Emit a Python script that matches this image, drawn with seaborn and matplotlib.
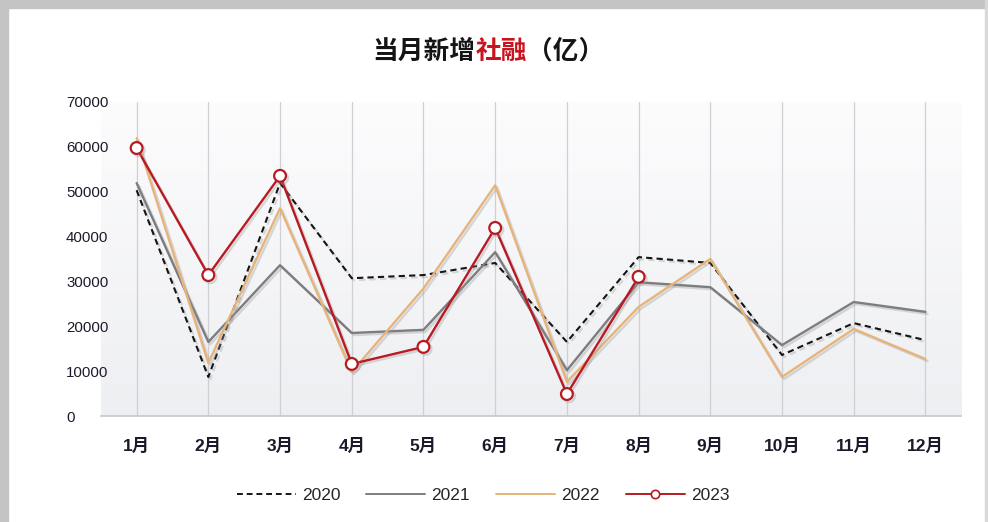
import numpy as np
import pandas as pd
import seaborn as sns
import matplotlib.pyplot as plt
from matplotlib.patches import Rectangle
from matplotlib.lines import Line2D
from matplotlib.colors import LinearSegmentedColormap
import matplotlib.patheffects as pe

months = ['1月', '2月', '3月', '4月', '5月', '6月', '7月', '8月', '9月', '10月', '11月', '12月']
v2020 = [50300, 8700, 51900, 30700, 31400, 34100, 16500, 35400, 34100, 13600, 20700, 16900]
v2021 = [51900, 16500, 33600, 18500, 19200, 36500, 10200, 29800, 28700, 15800, 25400, 23200]
v2022 = [61900, 11800, 46300, 9800, 28400, 51400, 7600, 24300, 35000, 8700, 19400, 12700]
v2023 = [59700, 31400, 53500, 11600, 15400, 41900, 4900, 31000]
years = ['2020', '2021', '2022', '2023']
yticks = [0, 10000, 20000, 30000, 40000, 50000, 60000, 70000]

sns.set_theme(style='white')
plt.rcParams['font.family'] = ['Liberation Sans', 'Noto Sans CJK SC', 'DejaVu Sans']
plt.rcParams['axes.unicode_minus'] = False

rows = []
for yr, vals in zip(years, [v2020, v2021, v2022, v2023]):
    for m, v in zip(months, vals):
        rows.append({'month': m, 'year': yr, 'value': v})
df = pd.DataFrame(rows)
df['x'] = df['month'].map({m: i for i, m in enumerate(months)})

colors = {'2020': '#151515', '2021': '#7d7d80', '2022': '#e6b47a', '2023': '#b81a22'}

fig = plt.figure(figsize=(9.88, 5.22), dpi=100)
fig.patch.set_facecolor('white')
ax = fig.add_axes([0.102, 0.203, 0.871, 0.602])

# light background gradient in plot area
grad = np.linspace(0, 1, 100).reshape(-1, 1)
ax.imshow(grad, extent=[-0.5, 11.5, 0, 70000], aspect='auto', origin='lower',
          cmap=LinearSegmentedColormap.from_list('g', ['#eeeff2', '#fcfcfd']),
          zorder=0)

shadow = [pe.SimpleLineShadow(offset=(1.5, -1.5), shadow_color='#999999', alpha=0.35), pe.Normal()]

styles = {
    '2020': dict(linestyle=(0, (3, 2)), linewidth=1.5),
    '2021': dict(linestyle='-', linewidth=1.7),
    '2022': dict(linestyle='-', linewidth=1.7),
    '2023': dict(linestyle='-', linewidth=1.7, marker='o', markersize=8.5,
                 markerfacecolor='white', markeredgewidth=1.6),
}
for yr in years:
    d = df[df['year'] == yr]
    sns.lineplot(data=d, x='x', y='value', ax=ax, color=colors[yr], zorder=3,
                 markeredgecolor=colors[yr], path_effects=shadow, **styles[yr])

ax.set_xlim(-0.5, 11.5)
ax.set_ylim(0, 70000)
ax.set_xticks(range(12))
ax.set_xticklabels(months)
ax.set_yticks(yticks)
ax.set_yticklabels([str(t) for t in yticks])
ax.set_xlabel('')
ax.set_ylabel('')
for i in range(12):
    ax.axvline(i, color='#cfcfd4', linewidth=0.9, zorder=1)
for s in ['top', 'right', 'left']:
    ax.spines[s].set_visible(False)
ax.spines['bottom'].set_color('#c8c8cc')
ax.spines['bottom'].set_linewidth(1.2)
ax.tick_params(axis='x', length=0, pad=16, labelsize=12.5, labelcolor='#1c1a2a')
ax.tick_params(axis='y', length=0, pad=25, labelsize=10.8, labelcolor='#1c1a2a')
for lab in ax.get_yticklabels():
    lab.set_horizontalalignment('left')
    lab.set_fontweight('medium')
for lab in ax.get_xticklabels():
    lab.set_fontweight('bold')
    lab.set_family(['Liberation Sans', 'Noto Sans CJK SC'])

# legend
handles = [Line2D([], [], color=colors[y], **styles[y]) for y in years]
handles[3].set_markersize(6)
handles[3].set_markeredgecolor(colors['2023'])
handles[3].set_markeredgewidth(1.2)
for h in handles:
    h.set_linewidth(1.4)
leg = fig.legend(handles, years, loc='center', bbox_to_anchor=(0.489, 0.051), ncol=4,
                 frameon=False, fontsize=12.5, handlelength=3.4, columnspacing=1.5,
                 handletextpad=0.35)

# title with colored middle part
title_parts = [('当月新增', '#151515'), ('社融', '#c8141e'), ('（亿）', '#151515')]
fig.canvas.draw()
renderer = fig.canvas.get_renderer()
texts = []
for s, c in title_parts:
    t = fig.text(0, 0.902, s, color=c, fontsize=18.5, fontweight='bold',
                 family=['Noto Sans CJK SC'], va='center', ha='left')
    texts.append(t)
widths = [t.get_window_extent(renderer=renderer).width / fig.bbox.width for t in texts]
x = 0.494 - sum(widths) / 2
for t, w in zip(texts, widths):
    t.set_x(x)
    x += w

# frame border
fig.patches.append(Rectangle((0, 0.985), 1, 0.015, transform=fig.transFigure,
                             color='#c4c4c4', zorder=10))
fig.patches.append(Rectangle((0, 0), 0.008, 1, transform=fig.transFigure,
                             color='#c4c4c4', zorder=10))
fig.patches.append(Rectangle((0.997, 0), 0.003, 1, transform=fig.transFigure,
                             color='#d8d8d8', zorder=10))

fig.savefig('out.png', dpi=100)
